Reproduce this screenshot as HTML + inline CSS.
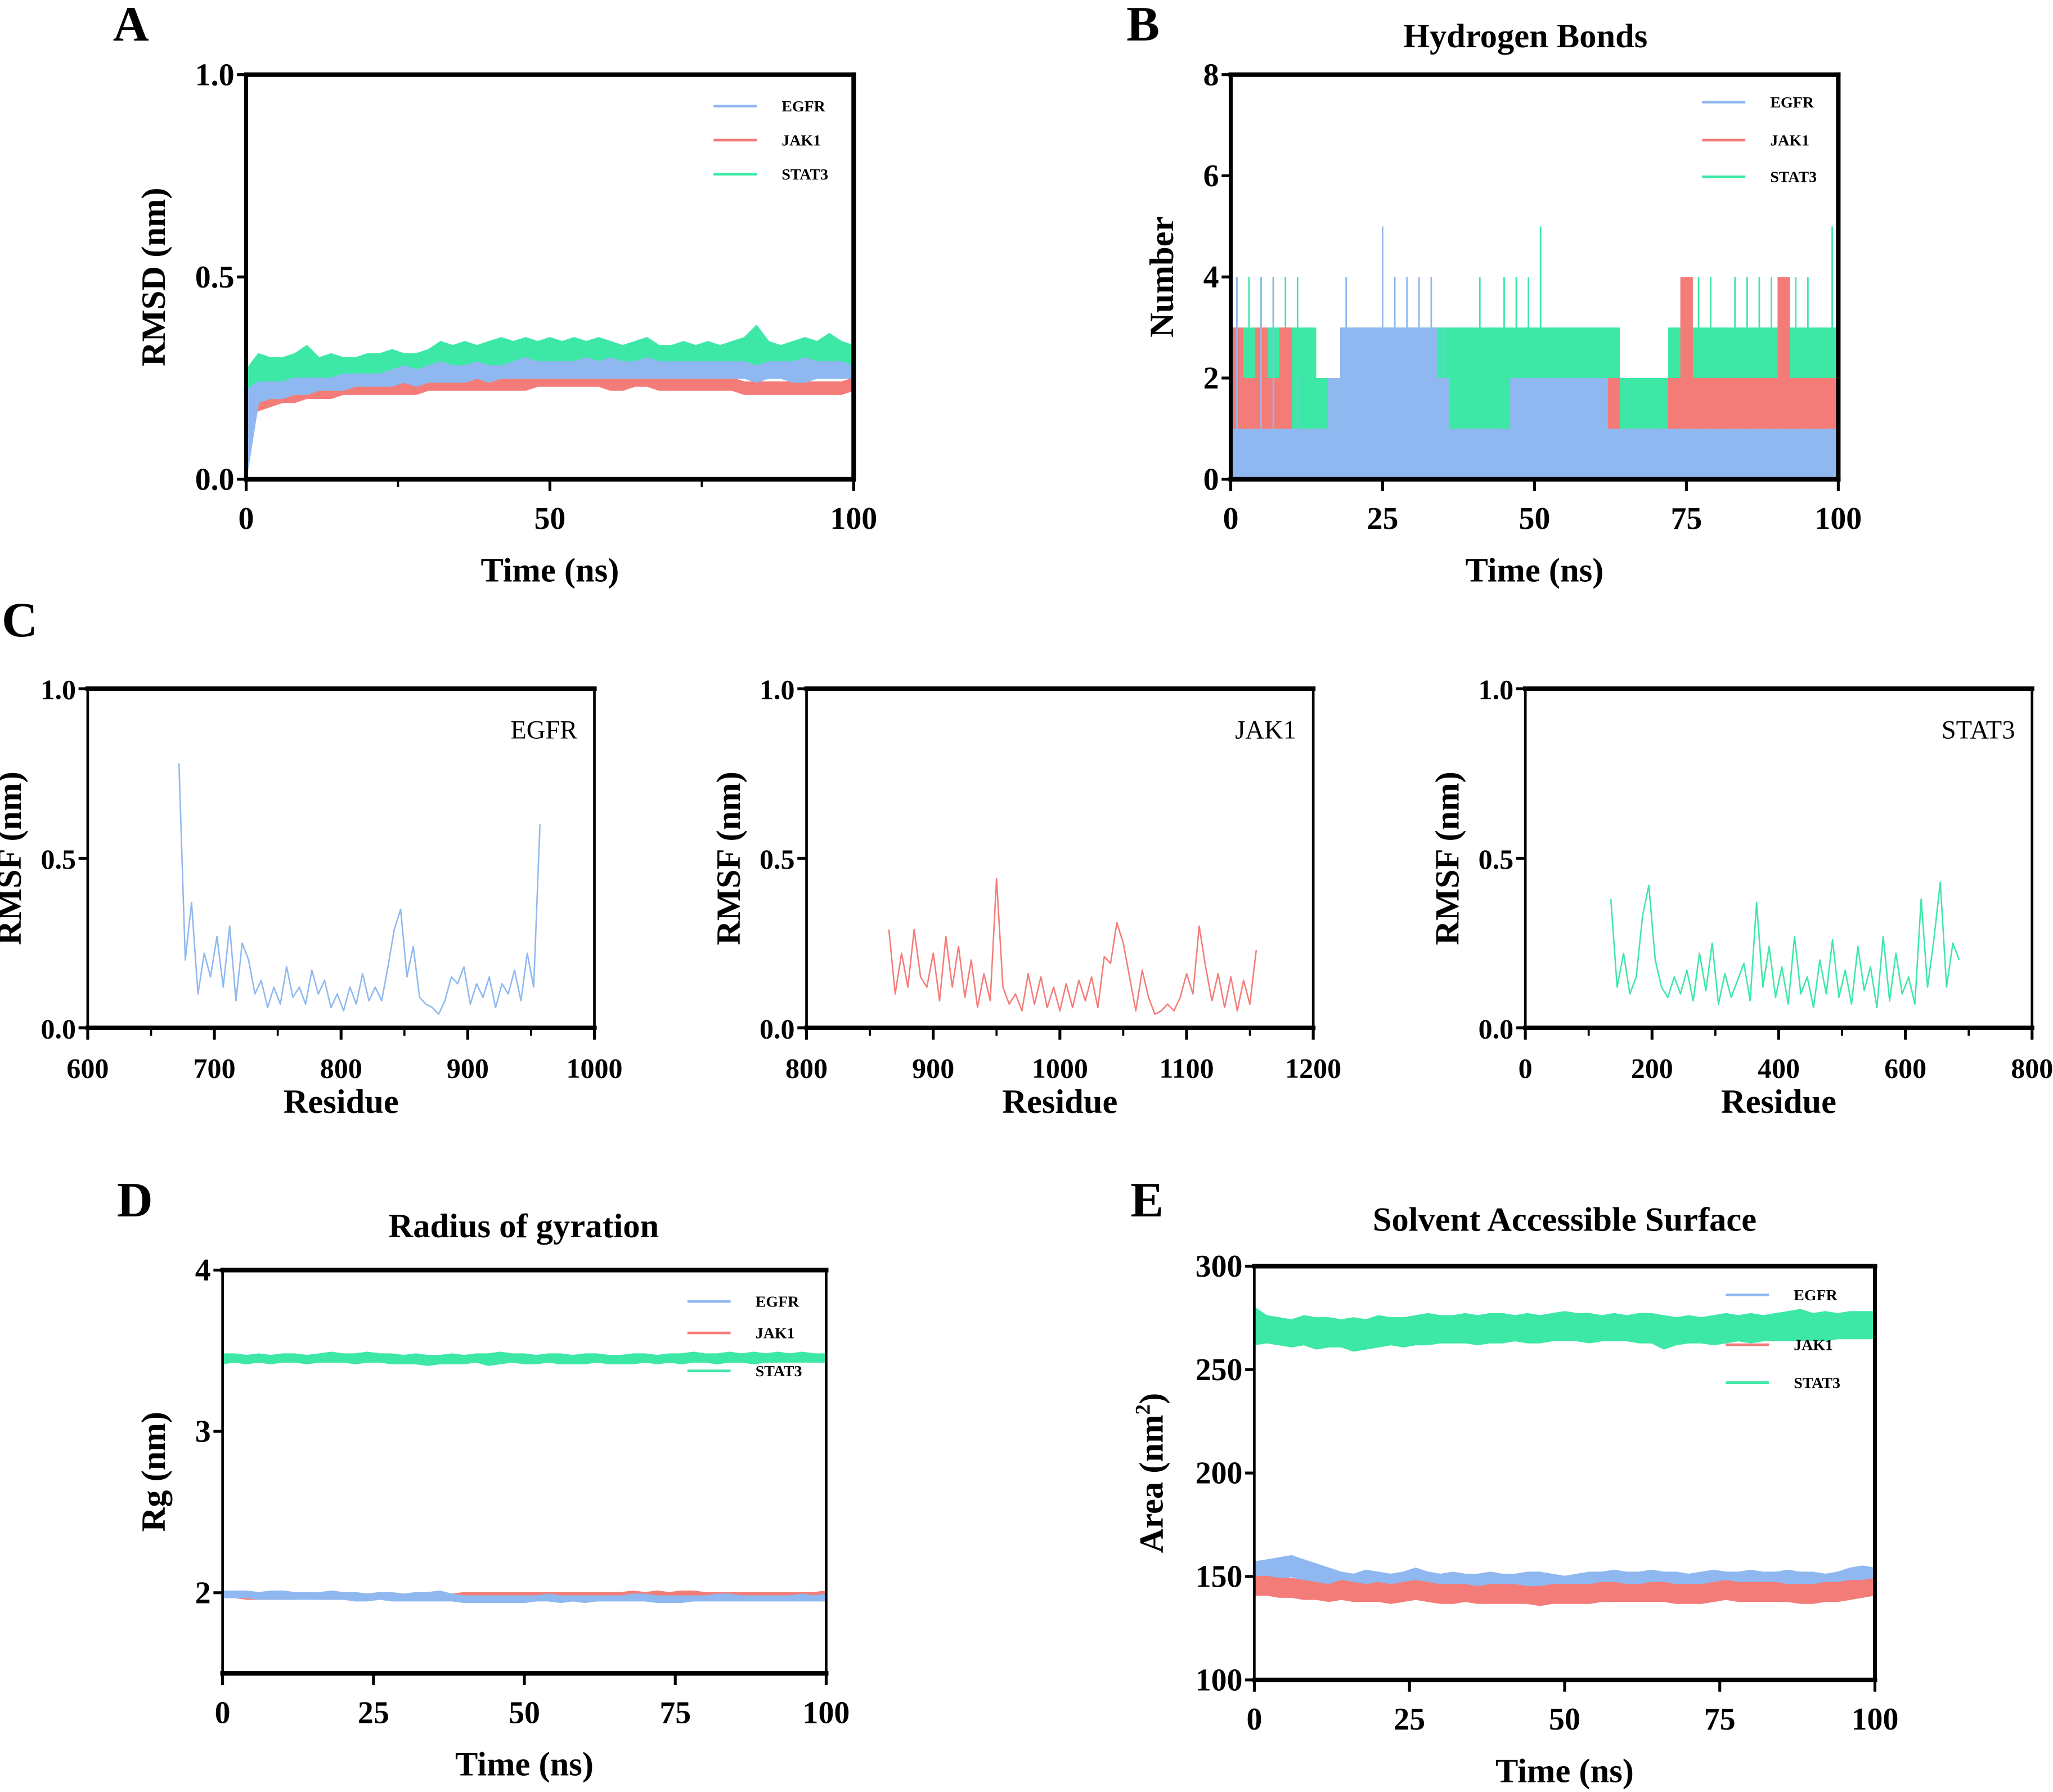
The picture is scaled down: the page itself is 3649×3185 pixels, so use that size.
<!DOCTYPE html>
<html><head><meta charset="utf-8"><style>
html,body{margin:0;padding:0;background:#fff;}
svg{display:block;font-family:"Liberation Serif",serif;font-weight:bold;}
</style></head><body>
<svg id="fig" xmlns="http://www.w3.org/2000/svg" width="3649" height="3185" viewBox="0 0 1568 1368.6"></svg>
<script>
// ---------- DATA ----------
const rmsdStat3Hi=[0.27,0.31,0.30,0.30,0.31,0.33,0.30,0.31,0.30,0.30,0.31,0.31,0.32,0.31,0.31,0.32,0.34,0.33,0.34,0.33,0.34,0.35,0.34,0.35,0.34,0.35,0.34,0.35,0.34,0.35,0.34,0.33,0.34,0.35,0.33,0.33,0.34,0.33,0.34,0.33,0.34,0.35,0.38,0.34,0.33,0.34,0.35,0.34,0.36,0.34,0.33];
const rmsdStat3Lo=[0.20,0.23,0.24,0.24,0.25,0.25,0.25,0.25,0.25,0.25,0.26,0.26,0.26,0.26,0.26,0.26,0.27,0.27,0.27,0.27,0.27,0.27,0.27,0.27,0.27,0.27,0.27,0.27,0.27,0.27,0.27,0.27,0.27,0.27,0.27,0.27,0.27,0.26,0.27,0.27,0.27,0.27,0.27,0.27,0.27,0.27,0.27,0.27,0.27,0.27,0.27];
const rmsdJak1Hi=[0.20,0.20,0.21,0.22,0.22,0.23,0.23,0.23,0.24,0.24,0.24,0.24,0.24,0.24,0.24,0.25,0.25,0.24,0.25,0.25,0.25,0.25,0.25,0.25,0.25,0.26,0.26,0.26,0.26,0.25,0.25,0.25,0.26,0.26,0.26,0.25,0.25,0.25,0.26,0.25,0.25,0.24,0.24,0.24,0.24,0.24,0.24,0.24,0.24,0.24,0.25];
const rmsdJak1Lo=[0.14,0.17,0.18,0.19,0.19,0.20,0.20,0.20,0.21,0.21,0.21,0.21,0.21,0.21,0.21,0.22,0.22,0.22,0.22,0.22,0.22,0.22,0.22,0.22,0.23,0.23,0.23,0.23,0.23,0.23,0.22,0.22,0.23,0.23,0.22,0.22,0.22,0.22,0.22,0.22,0.22,0.21,0.21,0.21,0.21,0.21,0.21,0.21,0.21,0.21,0.22];
const rmsdEgfrHi=[0.22,0.24,0.24,0.24,0.25,0.25,0.25,0.25,0.26,0.26,0.26,0.26,0.27,0.28,0.27,0.28,0.29,0.28,0.28,0.29,0.28,0.28,0.29,0.30,0.29,0.29,0.29,0.29,0.30,0.29,0.30,0.29,0.29,0.30,0.29,0.29,0.29,0.29,0.29,0.29,0.29,0.29,0.28,0.29,0.29,0.29,0.30,0.29,0.29,0.29,0.28];
const rmsdEgfrLo=[0.00,0.19,0.20,0.20,0.21,0.21,0.22,0.22,0.22,0.23,0.23,0.23,0.23,0.24,0.23,0.24,0.24,0.24,0.24,0.25,0.24,0.25,0.25,0.25,0.25,0.25,0.25,0.25,0.25,0.25,0.25,0.25,0.25,0.25,0.25,0.25,0.25,0.25,0.25,0.25,0.25,0.25,0.24,0.25,0.25,0.24,0.24,0.25,0.25,0.25,0.25];
const hbStat3Hi=[3,3,3,3,3,3,3,2,2,3,3,3,3,3,3,3,3,3,3,3,3,3,3,3,3,3,3,3,3,3,3,3,2,2,2,2,3,3,3,3,3,3,3,3,3,3,3,3,3,3];
const hbStat3Peak=[4,4,4,4,4,4,3,2,2,3,3,3,3,3,3,3,3,3,3,3,4,3,4,4,4,5,3,3,3,3,3,3,2,2,2,2,3,3,4,4,3,4,4,4,4,4,4,4,3,5];
const hbJak1Hi=[3,2,3,2,3,1,1,1,1,1,1,1,1,1,1,2,1,1,1,1,1,1,1,1,1,1,1,1,1,1,1,2,1,1,1,1,2,4,2,2,2,2,2,2,2,4,2,2,2,2];
const hbEgfrHi=[1,1,1,1,1,1,1,1,2,3,3,3,3,3,3,3,3,2,1,1,1,1,1,2,2,2,2,2,2,2,2,1,1,1,1,1,1,1,1,1,1,1,1,1,1,1,1,1,1,1];
const hbEgfrPeak=[4,1,4,4,1,2,1,1,2,4,3,3,5,4,4,4,4,3,1,1,1,1,1,2,2,2,2,2,2,2,2,1,1,1,1,1,1,1,1,1,1,1,1,1,1,1,1,1,1,1];
const egfrResStart=672, egfrResStep=5;
const rmsfEgfr=[0.78,0.20,0.37,0.10,0.22,0.15,0.27,0.12,0.30,0.08,0.25,0.20,0.10,0.14,0.06,0.12,0.07,0.18,0.09,0.12,0.07,0.17,0.10,0.14,0.06,0.10,0.05,0.12,0.07,0.16,0.08,0.12,0.08,0.18,0.29,0.35,0.15,0.24,0.09,0.07,0.06,0.04,0.08,0.15,0.13,0.18,0.07,0.13,0.09,0.15,0.06,0.13,0.10,0.17,0.08,0.22,0.12,0.60];
const jak1ResStart=865, jak1ResStep=5;
const rmsfJak1=[0.29,0.10,0.22,0.12,0.29,0.15,0.12,0.22,0.08,0.27,0.12,0.24,0.09,0.20,0.06,0.16,0.08,0.44,0.12,0.07,0.10,0.05,0.16,0.07,0.15,0.06,0.12,0.05,0.13,0.06,0.14,0.08,0.15,0.06,0.21,0.19,0.31,0.25,0.15,0.05,0.17,0.09,0.04,0.05,0.07,0.05,0.09,0.16,0.10,0.30,0.18,0.08,0.16,0.06,0.15,0.05,0.14,0.07,0.23];
const stat3ResStart=135, stat3ResStep=10;
const rmsfStat3=[0.38,0.12,0.22,0.10,0.15,0.33,0.42,0.20,0.12,0.09,0.15,0.10,0.17,0.08,0.22,0.11,0.25,0.07,0.16,0.09,0.14,0.19,0.08,0.37,0.12,0.24,0.09,0.18,0.07,0.27,0.10,0.15,0.06,0.20,0.10,0.26,0.09,0.17,0.07,0.24,0.11,0.18,0.06,0.27,0.08,0.22,0.10,0.15,0.07,0.38,0.12,0.26,0.43,0.12,0.25,0.20];
const rgStat3Hi=[3.48,3.48,3.47,3.48,3.47,3.48,3.48,3.47,3.48,3.49,3.48,3.48,3.49,3.48,3.48,3.47,3.48,3.47,3.47,3.48,3.47,3.48,3.48,3.49,3.48,3.48,3.47,3.48,3.48,3.47,3.48,3.48,3.47,3.47,3.48,3.48,3.47,3.48,3.48,3.49,3.48,3.48,3.49,3.48,3.49,3.48,3.49,3.48,3.49,3.48,3.48];
const rgStat3Lo=[3.42,3.43,3.42,3.43,3.42,3.43,3.43,3.42,3.43,3.43,3.43,3.42,3.43,3.43,3.42,3.42,3.42,3.41,3.42,3.42,3.42,3.43,3.41,3.42,3.43,3.42,3.42,3.43,3.42,3.42,3.42,3.43,3.42,3.42,3.42,3.43,3.42,3.43,3.42,3.43,3.43,3.42,3.43,3.43,3.42,3.43,3.43,3.43,3.43,3.43,3.43];
const rgJak1Hi=[2.00,2.00,1.99,1.99,1.99,1.99,1.99,2.00,1.99,1.99,1.99,1.99,1.99,2.00,1.99,1.99,1.99,1.99,1.99,1.99,2.00,2.00,2.00,2.00,2.00,2.00,2.00,2.00,2.00,2.00,2.00,2.00,2.00,2.00,2.01,2.00,2.01,2.00,2.01,2.01,2.00,2.00,2.00,2.00,2.00,2.00,2.00,2.00,2.00,2.00,2.01];
const rgJak1Lo=[1.97,1.97,1.96,1.96,1.96,1.96,1.96,1.97,1.96,1.96,1.96,1.96,1.96,1.96,1.96,1.96,1.96,1.96,1.96,1.96,1.97,1.97,1.97,1.97,1.97,1.97,1.97,1.97,1.97,1.97,1.97,1.97,1.97,1.97,1.97,1.97,1.97,1.97,1.97,1.97,1.97,1.97,1.97,1.97,1.97,1.97,1.97,1.97,1.97,1.97,1.97];
const rgEgfrHi=[2.01,2.01,2.01,2.00,2.01,2.01,2.00,2.00,2.00,2.01,2.00,2.00,1.99,2.00,2.00,1.99,2.00,2.00,2.01,1.99,1.98,1.98,1.98,1.98,1.98,1.98,1.98,1.99,1.98,1.98,1.98,1.98,1.98,1.98,1.99,1.99,1.98,1.98,1.98,1.98,1.98,1.99,1.99,1.98,1.98,1.98,1.98,1.98,1.99,1.98,1.99];
const rgEgfrLo=[1.97,1.97,1.97,1.96,1.96,1.96,1.96,1.96,1.96,1.96,1.96,1.95,1.95,1.96,1.95,1.95,1.95,1.95,1.95,1.95,1.94,1.94,1.94,1.94,1.94,1.94,1.95,1.95,1.94,1.95,1.94,1.95,1.95,1.95,1.95,1.95,1.94,1.94,1.94,1.95,1.95,1.95,1.95,1.95,1.95,1.95,1.95,1.95,1.95,1.95,1.95];
const sasStat3Hi=[280,276,275,274,276,275,275,274,275,274,276,275,275,276,277,276,276,277,276,277,277,276,277,276,277,278,277,277,276,277,276,277,277,276,275,276,275,276,277,276,277,276,277,278,279,277,278,277,278,278,278];
const sasStat3Lo=[262,263,262,261,262,260,261,261,259,260,261,262,261,262,262,263,263,263,262,263,263,264,263,263,264,264,264,263,264,264,264,263,263,260,262,263,263,262,263,264,263,264,264,264,264,264,264,265,265,265,265];
const sasEgfrHi=[157,158,159,160,158,156,154,152,151,153,152,151,152,154,152,151,152,151,151,152,151,151,152,152,151,150,151,152,152,153,152,152,153,152,152,151,152,153,152,152,153,152,152,153,152,152,151,152,154,155,154];
const sasEgfrLo=[148,148,149,150,148,146,143,142,141,142,142,141,141,143,142,141,141,141,141,141,141,140,141,141,140,140,141,141,141,142,142,141,142,141,141,140,141,142,141,141,142,142,141,142,141,142,141,142,143,144,144];
const sasJak1Hi=[150,150,149,149,148,147,146,148,147,146,147,146,147,148,147,146,146,146,145,146,146,146,145,145,146,146,146,146,147,147,146,146,147,147,146,146,146,147,148,147,147,147,147,146,146,146,147,147,148,148,149];
const sasJak1Lo=[141,141,140,140,139,139,138,139,138,138,138,137,138,139,138,137,137,138,137,137,137,137,137,136,137,137,137,137,138,138,138,138,138,138,137,137,137,138,139,138,138,138,138,138,137,137,138,138,139,140,141];
const timeStep=2;
const seriesNames=["EGFR","JAK1","STAT3"];

// ---------- DRAWING ----------
const BLUE="#8fb8f0",RED="#f47c78",GREEN="#3de8a6";
const NS="http://www.w3.org/2000/svg";
const svg=document.getElementById('fig');
function mk(tag,attrs,parent){const e=document.createElementNS(NS,tag);for(const k in attrs)e.setAttribute(k,attrs[k]);(parent||svg).appendChild(e);return e;}
function txt(s,attrs,parent){const e=mk('text',attrs,parent);e.textContent=s;return e;}

function axes(p){
  const g=mk('g',{});
  
  
  p.g=g;
  p.sx=v=>p.x0+(v-p.xd[0])/(p.xd[1]-p.xd[0])*(p.x1-p.x0);
  p.sy=v=>p.y1-(v-p.yd[0])/(p.yd[1]-p.yd[0])*(p.y1-p.y0);
  return g;
}
function frame(p){
  const g=p.g;
  const f=mk('g',{stroke:'#000','stroke-linecap':'square'},g);
  
  
  mk('line',{x1:p.x0,y1:p.y0,x2:p.x1,y2:p.y0,'stroke-width':p.tw||3.5},f);
  mk('line',{x1:p.x0,y1:p.y1,x2:p.x1,y2:p.y1,'stroke-width':p.tw||3.5},f);
  mk('line',{x1:p.x0,y1:p.y0,x2:p.x0,y2:p.y1,'stroke-width':p.lw||2},f);
  mk('line',{x1:p.x1,y1:p.y0,x2:p.x1,y2:p.y1,'stroke-width':p.rw||2},f);
  const xt=mk('g',{},g);
  
  
  p.xticks.forEach((v,i)=>{
    const x=p.sx(v);
    mk('line',{x1:x,y1:p.y1,x2:x,y2:p.y1+9,stroke:'#000','stroke-width':2.2},xt);
    const t=txt(p.xlabels?p.xlabels[i]:String(v),{x:x,y:p.y1+38,'text-anchor':'middle','font-size':p.fs||24},xt);
    
    
  });
  (p.xminor||[]).forEach(v=>{const x=p.sx(v);mk('line',{x1:x,y1:p.y1,x2:x,y2:p.y1+6,stroke:'#000','stroke-width':1.6},xt);});
  const yt=mk('g',{},g);
  
  
  p.yticks.forEach((v,i)=>{
    const y=p.sy(v);
    mk('line',{x1:p.x0-7,y1:y,x2:p.x0,y2:y,stroke:'#000','stroke-width':2.2},yt);
    const t=txt(p.ylabels[i],{x:p.x0-9,y:y+8,'text-anchor':'end','font-size':p.fs||24},yt);
    
    
  });
  const xl=txt(p.xtitle,{x:(p.x0+p.x1)/2,y:p.xty,'text-anchor':'middle','font-size':26},g);
  
  
  const yl=txt(p.ytitle,{x:0,y:0,'text-anchor':'middle','font-size':26,transform:`translate(${p.ytx},${(p.y0+p.y1)/2}) rotate(-90)`},g);
  
  
}
function band(p,hi,lo,color,name){
  let pts=[];
  hi.forEach((v,i)=>pts.push(p.sx(i*timeStep).toFixed(1)+','+p.sy(v).toFixed(1)));
  for(let i=lo.length-1;i>=0;i--)pts.push(p.sx(i*timeStep).toFixed(1)+','+p.sy(lo[i]).toFixed(1));
  const e=mk('polygon',{points:pts.join(' '),fill:color,stroke:color,'stroke-width':1,'stroke-linejoin':'round'},p.g);
  
  
}
function legend(p,lx,ly,fs){
  const cols=[BLUE,RED,GREEN];
  const g=mk('g',{},p.g);
  
  
  seriesNames.forEach((n,i)=>{
    const r=mk('g',{},g);
    
    
    mk('line',{x1:lx,y1:ly[i],x2:lx+33,y2:ly[i],stroke:cols[i],'stroke-width':2},r);
    txt(n,{x:lx+52,y:ly[i]+4,'font-size':fs||12},r);
  });
}
function letter(s,x,y){const t=txt(s,{x:x,y:y,'text-anchor':'middle','font-size':38},svg);
  
  }
function title(s,x,y){const t=txt(s,{x:x,y:y,'text-anchor':'middle','font-size':26},svg);
  
  }

// Panel A
letter('A',100,31);
const pA={id:'rmsd',x0:188,x1:652,y0:57,y1:366,xd:[0,100],yd:[0,1],xticks:[0,50,100],xminor:[25,75],yticks:[0,0.5,1],ylabels:['0.0','0.5','1.0'],xtitle:'Time (ns)',xty:444,ytitle:'RMSD (nm)',ytx:126,rw:3.5,lw:3};
axes(pA);
band(pA,rmsdStat3Hi,rmsdStat3Lo,GREEN,'rmsd-stat3-line');
band(pA,rmsdJak1Hi,rmsdJak1Lo,RED,'rmsd-jak1-line');
band(pA,rmsdEgfrHi,rmsdEgfrLo,BLUE,'rmsd-egfr-line');
frame(pA);legend(pA,545,[81,107,133]);

// Panel B
letter('B',873,31);title('Hydrogen Bonds',1165,36);
const pB={id:'hbond',x0:940,x1:1404,y0:57,y1:366,xd:[0,100],yd:[0,8],xticks:[0,25,50,75,100],yticks:[0,2,4,6,8],ylabels:['0','2','4','6','8'],xtitle:'Time (ns)',xty:444,ytitle:'Number',ytx:896,rw:3.5,lw:3};
axes(pB);
function hbSeries(hi,peak,color,name){
  const g=mk('g',{},pB.g);
  
  
  const bw=(pB.x1-pB.x0)/hi.length;
  hi.forEach((v,i)=>{
    const x=pB.sx(i*timeStep);
    mk('rect',{x:x,y:pB.sy(v),width:bw+0.3,height:pB.sy(0)-pB.sy(v),fill:color},g);
    if(peak&&peak[i]>v){mk('line',{x1:x+bw/2,x2:x+bw/2,y1:pB.sy(v),y2:pB.sy(peak[i]),stroke:color,'stroke-width':1.2},g);}
  });
}
hbSeries(hbStat3Hi,hbStat3Peak,GREEN,'hbond-stat3-series');
hbSeries(hbJak1Hi,null,RED,'hbond-jak1-series');
hbSeries(hbEgfrHi,hbEgfrPeak,BLUE,'hbond-egfr-series');
frame(pB);legend(pB,1300,[78,107,135]);

// Panel C
letter('C',15,486);
function rmsfPanel(id,x0,xd,xticks,xminor,vals,start,step,color,label,ytx){
  const p={id:id,x0:x0,x1:x0+387,y0:526,y1:785,xd:xd,yd:[0,1],xticks:xticks,xminor:xminor,yticks:[0,0.5,1],ylabels:['0.0','0.5','1.0'],xtitle:'Residue',xty:850,ytitle:'RMSF (nm)',ytx:ytx,fs:21.5};
  axes(p);
  const pts=vals.map((v,i)=>p.sx(start+i*step).toFixed(1)+','+p.sy(v).toFixed(1)).join(' ');
  const l=mk('polyline',{points:pts,fill:'none',stroke:color,'stroke-width':1.1,'stroke-linejoin':'round'},p.g);
  
  
  frame(p);
  const t=txt(label,{x:p.x1-13,y:564,'text-anchor':'end','font-size':20,'font-weight':'normal'},p.g);
  
  
}
rmsfPanel('rmsf-egfr',67,[600,1000],[600,700,800,900,1000],[650,750,850,950],rmsfEgfr,egfrResStart,egfrResStep,BLUE,'EGFR',16);
rmsfPanel('rmsf-jak1',616,[800,1200],[800,900,1000,1100,1200],[850,950,1050,1150],rmsfJak1,jak1ResStart,jak1ResStep,RED,'JAK1',565);
rmsfPanel('rmsf-stat3',1165,[0,800],[0,200,400,600,800],[100,300,500,700],rmsfStat3,stat3ResStart,stat3ResStep,GREEN,'STAT3',1114);

// Panel D
letter('D',103,929);title('Radius of gyration',400,945);
const pD={id:'rg',x0:170,x1:631,y0:970,y1:1278,xd:[0,100],yd:[1.5,4],xticks:[0,25,50,75,100],yticks:[2,3,4],ylabels:['2','3','4'],xtitle:'Time (ns)',xty:1356,ytitle:'Rg (nm)',ytx:126};
axes(pD);
band(pD,rgStat3Hi,rgStat3Lo,GREEN,'rg-stat3-line');
band(pD,rgJak1Hi,rgJak1Lo,RED,'rg-jak1-line');
band(pD,rgEgfrHi,rgEgfrLo,BLUE,'rg-egfr-line');
frame(pD);legend(pD,525,[994,1018,1047]);

// Panel E
letter('E',876,929);title('Solvent Accessible Surface',1195,940);
const pE={id:'sasa',x0:958,x1:1432,y0:967,y1:1283,xd:[0,100],yd:[100,300],xticks:[0,25,50,75,100],yticks:[100,150,200,250,300],ylabels:['100','150','200','250','300'],xtitle:'Time (ns)',xty:1361,ytitle:'',ytx:888,rw:3};
axes(pE);
band(pE,sasStat3Hi,sasStat3Lo,GREEN,'sasa-stat3-line');
band(pE,sasEgfrHi,sasEgfrLo,BLUE,'sasa-egfr-line');
band(pE,sasJak1Hi,sasJak1Lo,RED,'sasa-jak1-line');
frame(pE);legend(pE,1318,[989,1027,1056]);
const at=mk('text',{x:0,y:0,'text-anchor':'middle','font-size':26,transform:`translate(888,1125) rotate(-90)`},pE.g);


at.innerHTML='Area (nm<tspan dy="-10" font-size="16">2</tspan><tspan dy="10">)</tspan>';
</script>
</body></html>
